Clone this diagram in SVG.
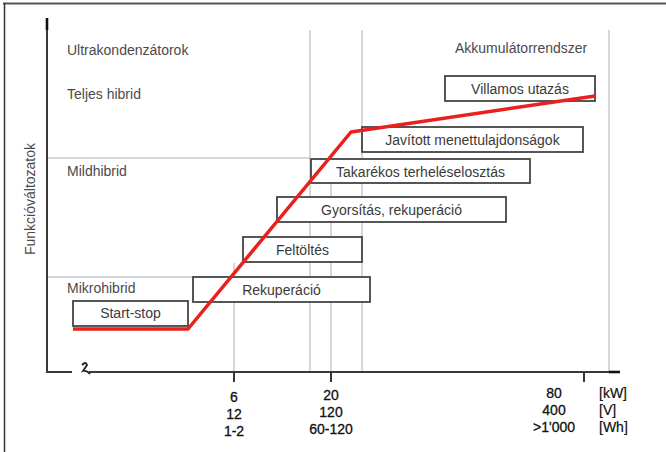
<svg xmlns="http://www.w3.org/2000/svg" width="666" height="452" viewBox="0 0 666 452">
<style>
.grid{stroke:#c9cacd;stroke-width:1.5;fill:none}
.axis{stroke:#3a3a3a;stroke-width:2;fill:none}
.box{fill:#fff;stroke:#444;stroke-width:1.8}
.lbl{font-family:"Liberation Sans",Arial,sans-serif;font-size:14px;fill:#4a4a4a}
.btxt{font-family:"Liberation Sans",Arial,sans-serif;font-size:14px;fill:#3a3a3a;text-anchor:middle}
.tick{font-family:"Liberation Sans",Arial,sans-serif;font-size:14px;fill:#111;text-anchor:middle;stroke:#111;stroke-width:0.3}
.unit{font-family:"Liberation Sans",Arial,sans-serif;font-size:14px;fill:#111;stroke:#111;stroke-width:0.2}
</style>
<rect x="0" y="0" width="666" height="452" fill="#fff"/>
<g id="frame">
<line x1="3" y1="3.5" x2="666" y2="3.5" stroke="#555" stroke-width="2"/>
<line x1="4.5" y1="3" x2="4.5" y2="452" stroke="#333" stroke-width="1.5"/>
</g>
<g id="gridlines">
<line class="grid" x1="310" y1="30" x2="310" y2="372"/>
<line class="grid" x1="362" y1="30" x2="362" y2="372"/>
<line class="grid" x1="609" y1="30" x2="609" y2="372"/>
<line class="grid" x1="331" y1="183" x2="331" y2="372"/>
<line class="grid" x1="234" y1="263" x2="234" y2="372"/>
<line class="grid" x1="47" y1="158" x2="311" y2="158"/>
<line class="grid" x1="47" y1="277" x2="193" y2="277"/>
</g>
<g id="axes">
<line class="axis" x1="47" y1="18" x2="47" y2="373"/>
<line x1="47" y1="18" x2="47" y2="30" stroke="#111" stroke-width="2.6"/>
<polyline class="axis" points="47,372 72,372"/>
<line class="axis" x1="89" y1="372" x2="620" y2="372"/>
<line x1="609" y1="372" x2="620" y2="372" stroke="#111" stroke-width="2.6"/>
<path d="M82,365 Q86,361 87,365 L83,371 Q87,370 90,374" fill="none" stroke="#222" stroke-width="1.8"/>
<line x1="234" y1="372" x2="234" y2="382" stroke="#2a3a4a" stroke-width="2"/>
<line x1="331" y1="372" x2="331" y2="382" stroke="#2a3a4a" stroke-width="2"/>
<line x1="584" y1="372" x2="584" y2="382" stroke="#2a3a4a" stroke-width="2"/>
</g>
<g id="labels">
<text class="lbl" x="67" y="55">Ultrakondenzátorok</text>
<text class="lbl" x="67" y="99">Teljes hibrid</text>
<text class="lbl" x="67" y="176">Mildhibrid</text>
<text class="lbl" x="67" y="293">Mikrohibrid</text>
<text class="lbl" x="455" y="53">Akkumulátorrendszer</text>
<text class="lbl" transform="translate(35,199) rotate(-90)" text-anchor="middle">Funkcióváltozatok</text>
</g>
<g id="tick-labels">
<text class="tick" x="234" y="402">6</text>
<text class="tick" x="234" y="419">12</text>
<text class="tick" x="234" y="436">1-2</text>
<text class="tick" x="331" y="400">20</text>
<text class="tick" x="331" y="417">120</text>
<text class="tick" x="331" y="434">60-120</text>
<text class="tick" x="554" y="398">80</text>
<text class="tick" x="554" y="415">400</text>
<text class="tick" x="554" y="432">&gt;1'000</text>
<text class="unit" x="599" y="398">[kW]</text>
<text class="unit" x="599" y="415">[V]</text>
<text class="unit" x="599" y="432">[Wh]</text>
</g>
<g id="start-stop"><rect class="box" x="73" y="301" width="115" height="25"/><text class="btxt" x="130.5" y="318">Start-stop</text></g>
<g id="rekuperacio"><rect class="box" x="193" y="277" width="177" height="25"/><text class="btxt" x="281.5" y="295">Rekuperáció</text></g>
<g id="feltoltes"><rect class="box" x="243" y="237" width="119" height="25"/><text class="btxt" x="302.5" y="255">Feltöltés</text></g>
<g id="gyorsitas"><rect class="box" x="277" y="197" width="229" height="25"/><text class="btxt" x="391.5" y="215">Gyorsítás, rekuperáció</text></g>
<g id="takarekos"><rect class="box" x="311" y="159" width="219" height="24"/><text class="btxt" x="420.5" y="177">Takarékos terheléselosztás</text></g>
<g id="javitott"><rect class="box" x="362" y="127" width="221" height="25"/><text class="btxt" x="472.5" y="145">Javított menettulajdonságok</text></g>
<g id="villamos"><rect class="box" x="445" y="76" width="150" height="25"/><text class="btxt" x="520" y="94">Villamos utazás</text></g>
<g id="connectors">
<polyline points="73,329 188,329 351,132 595,96" fill="none" stroke="#e8201e" stroke-width="3.5" stroke-linejoin="round"/>
</g>
</svg>
